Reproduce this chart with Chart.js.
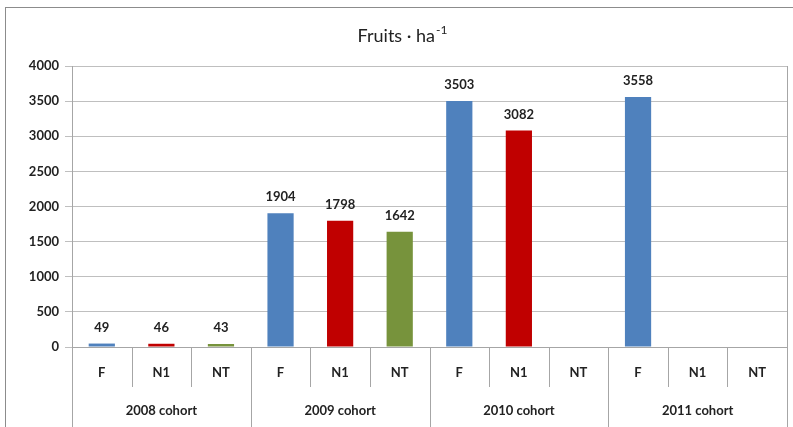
<!DOCTYPE html>
<html>
<head>
<meta charset="utf-8">
<script src="https://cdn.jsdelivr.net/npm/chart.js@4"></script>
<style>
  body { margin: 0; background: #fff; overflow: hidden; }
  #frame { position: absolute; left: 5px; top: 7px; width: 800px; height: 430px; border: 1px solid #8c8c8c; box-sizing: border-box; }
  #wrap { position: absolute; left: 0; top: 0; width: 793px; height: 427px; }
</style>
</head>
<body>
<div id="frame"></div>
<div id="wrap"><canvas id="chart" width="793" height="427"></canvas></div>
<script>
const treatments = ["F", "N1", "NT", "F", "N1", "NT", "F", "N1", "NT", "F", "N1", "NT"];
const cohorts = ["2008 cohort", "2009 cohort", "2010 cohort", "2011 cohort"];
const fruits = [49, 46, 43, 1904, 1798, 1642, 3503, 3082, null, 3558, null, null];
const colors = ["#4f81bd", "#c00000", "#77933c"];
const yTicks = [0, 500, 1000, 1500, 2000, 2500, 3000, 3500, 4000];

const labelFont = "bold 13px Lato";

const overlay = {
  id: "overlay",
  afterDraw(chart) {
    const ctx = chart.ctx;
    const x = chart.scales.x;
    const area = chart.chartArea;
    const n = treatments.length;
    const step = (area.right - area.left) / n;
    ctx.save();
    // title with superscript
    ctx.fillStyle = "#222";
    ctx.textBaseline = "alphabetic";
    ctx.textAlign = "left";
    const main = "Fruits \u00b7 ha";
    const sup = "-1";
    ctx.font = "18px Lato";
    const w1 = ctx.measureText(main).width;
    ctx.font = "12px Lato";
    const w2 = ctx.measureText(sup).width;
    const tx = 402 - (w1 + w2) / 2;
    ctx.font = "18px Lato";
    ctx.fillText(main, tx, 42);
    ctx.font = "12px Lato";
    ctx.fillText(sup, tx + w1 + 1, 34);

    ctx.textAlign = "center";
    ctx.textBaseline = "middle";
    // data labels
    ctx.font = labelFont;
    const meta = chart.getDatasetMeta(0);
    meta.data.forEach((bar, i) => {
      if (fruits[i] == null) return;
      ctx.fillText(String(fruits[i]), bar.x, bar.y - 16);
    });

    // category dividers
    ctx.strokeStyle = "#a6a6a6";
    ctx.lineWidth = 1;
    for (let i = 0; i <= n; i++) {
      const px = Math.round(area.left + i * step) + 0.5;
      const long = i % 3 === 0;
      ctx.beginPath();
      ctx.moveTo(px, area.bottom);
      ctx.lineTo(px, long ? 427 : area.bottom + 40);
      ctx.stroke();
    }
    // right border of plot
    ctx.beginPath();
    ctx.moveTo(Math.round(area.right) + 0.5, area.top);
    ctx.lineTo(Math.round(area.right) + 0.5, area.bottom);
    ctx.stroke();

    // labels
    ctx.fillStyle = "#222";
    treatments.forEach((t, i) => {
      ctx.fillText(t, x.getPixelForValue(i), area.bottom + 26);
    });
    cohorts.forEach((c, g) => {
      const cx = (x.getPixelForValue(g * 3) + x.getPixelForValue(g * 3 + 2)) / 2;
      ctx.fillText(c, cx, area.bottom + 64);
    });
    ctx.restore();
  }
};

new Chart(document.getElementById("chart"), {
  type: "bar",
  data: {
    labels: treatments,
    datasets: [{
      data: fruits,
      backgroundColor: treatments.map((t, i) => colors[i % 3]),
      barPercentage: 0.44,
      categoryPercentage: 1.0
    }]
  },
  options: {
    responsive: false,
    animation: false,
    layout: { padding: { left: 0, right: 6, top: 66, bottom: 80 } },
    plugins: { legend: { display: false }, tooltip: { enabled: false }, title: { display: false } },
    scales: {
      x: {
        ticks: { display: false },
        grid: { display: false, drawTicks: false },
        border: { color: "#a6a6a6" }
      },
      y: {
        min: 0,
        max: 4000,
        afterBuildTicks: (s) => { s.ticks = yTicks.map(v => ({ value: v })); },
        afterFit: (s) => { s.width = 72; },
        ticks: { color: "#222", font: { family: "Lato", size: 13, weight: "bold" }, padding: 6, callback: (v) => String(v) },
        grid: { color: "#bfbfbf", tickLength: 7 },
        border: { color: "#a6a6a6" }
      }
    }
  },
  plugins: [overlay]
});
</script>
</body>
</html>
